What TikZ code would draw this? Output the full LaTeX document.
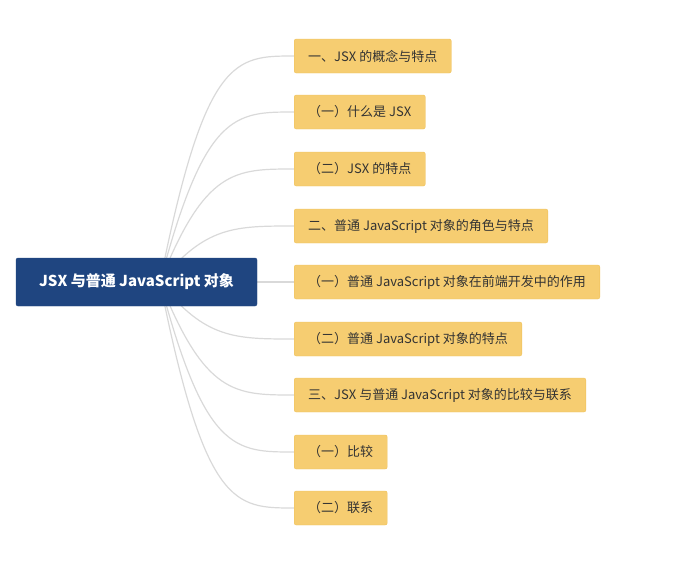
\documentclass[tikz,border=0pt]{standalone}
\usepackage{fontspec}
\setmainfont{Noto Sans CJK SC}
\usetikzlibrary{backgrounds}
\definecolor{rootblue}{HTML}{1F4580}
\definecolor{leaffill}{HTML}{F6CD71}
\definecolor{leafdraw}{HTML}{EEC15A}
\definecolor{linkgray}{HTML}{D9D9D9}
\tikzset{
    root/.style={draw=rootblue, fill=rootblue, text=white, rounded corners=2pt,
        minimum width=241pt, minimum height=48pt, font=\fontsize{15}{18}\selectfont\bfseries},
    leaf/.style={draw=leafdraw, fill=leaffill, text=black!80, rounded corners=2pt,
        anchor=west, minimum height=34pt, inner xsep=14pt, font=\fontsize{13}{16}\selectfont},
    link/.style={draw=linkgray, line width=1.2pt},
}
\begin{document}
\begin{tikzpicture}[x=1pt, y=-1pt]
\useasboundingbox (0,0) rectangle (691,568);
\node [root] (root) at (136.5,282) {JSX 与普通 JavaScript 对象};
\coordinate (hub) at (160,282);
\foreach \n/\y/\t in {
    a/56/{一、JSX 的概念与特点},
    b/112/{（一）什么是 JSX},
    c/169/{（二）JSX 的特点},
    d/226/{二、普通 JavaScript 对象的角色与特点},
    e/282/{（一）普通 JavaScript 对象在前端开发中的作用},
    f/339/{（二）普通 JavaScript 对象的特点},
    g/395/{三、JSX 与普通 JavaScript 对象的比较与联系},
    h/452/{（一）比较},
    i/508/{（二）联系}}
{
    \node [leaf] (\n) at (294,\y) {\t};
    \begin{scope}[on background layer]
        \draw [link] (hub) .. controls (205,\y) and (235,\y) .. (\n.west);
    \end{scope}
}
\end{tikzpicture}
\end{document}
